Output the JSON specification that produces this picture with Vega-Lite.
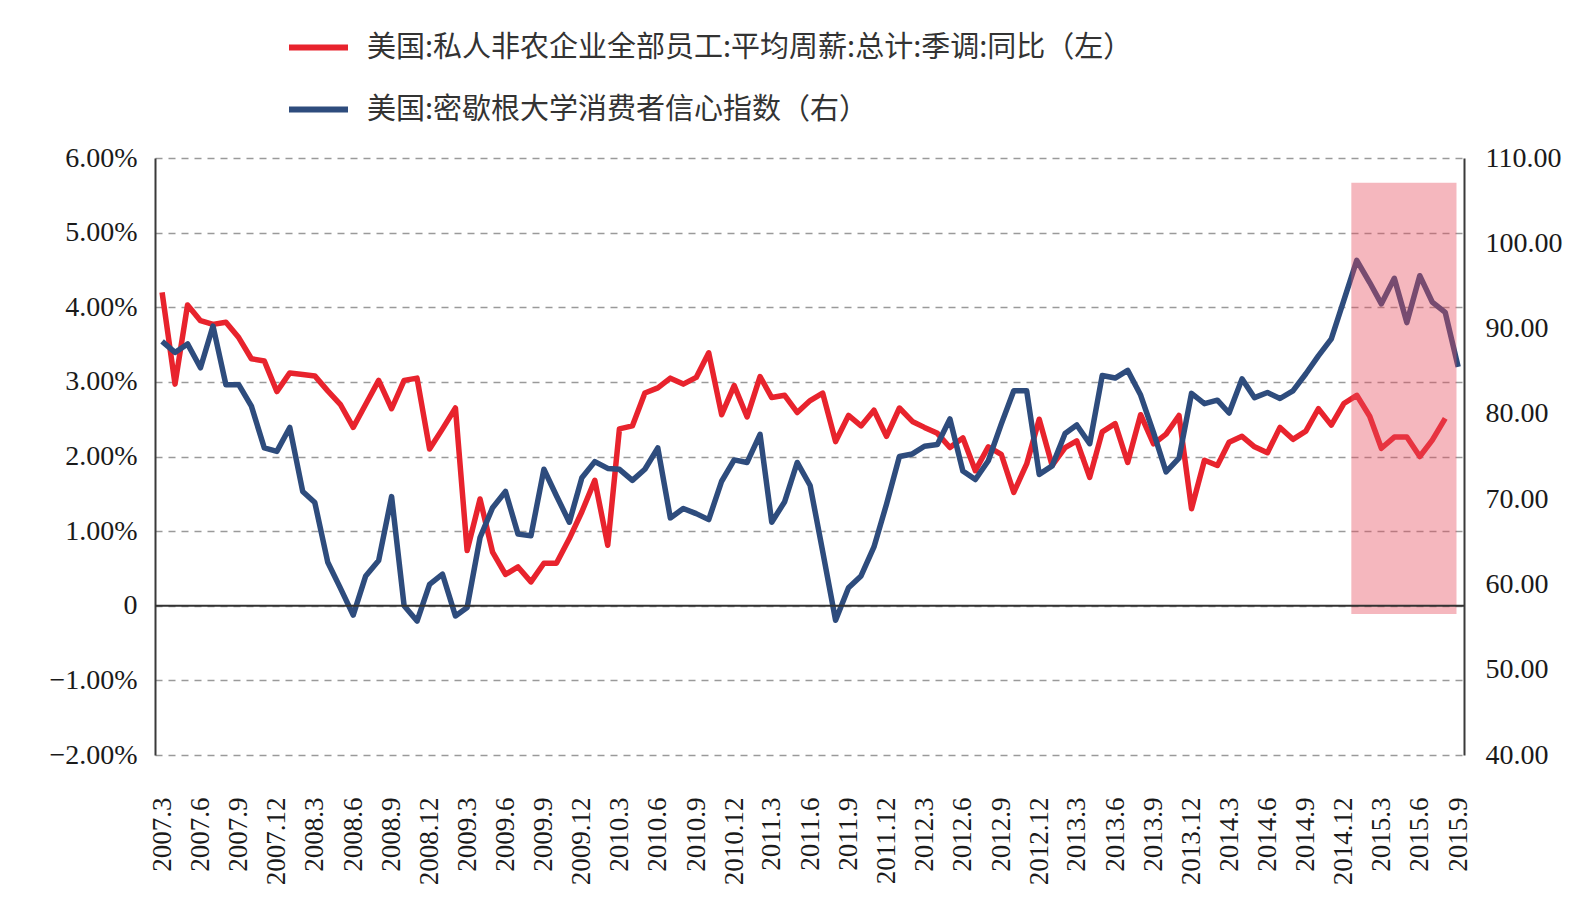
{
  "$schema": "https://vega.github.io/schema/vega-lite/v6.json",
  "width": 1309,
  "height": 597,
  "autosize": {"type": "none"},
  "padding": {"left": 155, "top": 158, "right": 122, "bottom": 161},
  "background": "white",
  "config": {
    "view": {"stroke": null},
    "axis": {"labelOverlap": false},
    "axisX": {"labelOverlap": false, "labelSeparation": 0, "labelBound": false, "labelFlush": false}
  },
  "datasets": {
    "series": [
      {"d":"2007-03-01","w":4.20,"c":88.5},{"d":"2007-04-01","w":2.97,"c":87.2},{"d":"2007-05-01","w":4.03,"c":88.2},{"d":"2007-06-01","w":3.82,"c":85.4},{"d":"2007-07-01","w":3.77,"c":90.3},{"d":"2007-08-01","w":3.80,"c":83.4},{"d":"2007-09-01","w":3.59,"c":83.4},{"d":"2007-10-01","w":3.31,"c":80.9},{"d":"2007-11-01","w":3.28,"c":76.0},{"d":"2007-12-01","w":2.87,"c":75.6},
      {"d":"2008-01-01","w":3.12,"c":78.4},{"d":"2008-02-01","w":3.10,"c":70.9},{"d":"2008-03-01","w":3.08,"c":69.6},{"d":"2008-04-01","w":2.88,"c":62.6},{"d":"2008-05-01","w":2.70,"c":59.6},{"d":"2008-06-01","w":2.39,"c":56.4},{"d":"2008-07-01","w":2.70,"c":61.0},{"d":"2008-08-01","w":3.02,"c":62.8},{"d":"2008-09-01","w":2.64,"c":70.3},{"d":"2008-10-01","w":3.02,"c":57.5},{"d":"2008-11-01","w":3.05,"c":55.7},{"d":"2008-12-01","w":2.10,"c":60.0},
      {"d":"2009-01-01","w":2.37,"c":61.2},{"d":"2009-02-01","w":2.65,"c":56.3},{"d":"2009-03-01","w":0.74,"c":57.3},{"d":"2009-04-01","w":1.43,"c":65.5},{"d":"2009-05-01","w":0.72,"c":69.0},{"d":"2009-06-01","w":0.42,"c":70.9},{"d":"2009-07-01","w":0.52,"c":65.9},{"d":"2009-08-01","w":0.32,"c":65.7},{"d":"2009-09-01","w":0.57,"c":73.5},{"d":"2009-10-01","w":0.57,"c":70.4},{"d":"2009-11-01","w":0.90,"c":67.3},{"d":"2009-12-01","w":1.26,"c":72.5},
      {"d":"2010-01-01","w":1.68,"c":74.4},{"d":"2010-02-01","w":0.81,"c":73.6},{"d":"2010-03-01","w":2.37,"c":73.5},{"d":"2010-04-01","w":2.41,"c":72.2},{"d":"2010-05-01","w":2.85,"c":73.5},{"d":"2010-06-01","w":2.92,"c":76.0},{"d":"2010-07-01","w":3.05,"c":67.8},{"d":"2010-08-01","w":2.97,"c":68.9},{"d":"2010-09-01","w":3.06,"c":68.3},{"d":"2010-10-01","w":3.39,"c":67.6},{"d":"2010-11-01","w":2.56,"c":72.1},{"d":"2010-12-01","w":2.95,"c":74.6},
      {"d":"2011-01-01","w":2.53,"c":74.3},{"d":"2011-02-01","w":3.07,"c":77.6},{"d":"2011-03-01","w":2.79,"c":67.3},{"d":"2011-04-01","w":2.82,"c":69.7},{"d":"2011-05-01","w":2.59,"c":74.3},{"d":"2011-06-01","w":2.75,"c":71.6},{"d":"2011-07-01","w":2.85,"c":63.9},{"d":"2011-08-01","w":2.20,"c":55.8},{"d":"2011-09-01","w":2.55,"c":59.6},{"d":"2011-10-01","w":2.41,"c":61.0},{"d":"2011-11-01","w":2.62,"c":64.4},{"d":"2011-12-01","w":2.27,"c":69.4},
      {"d":"2012-01-01","w":2.65,"c":75.0},{"d":"2012-02-01","w":2.47,"c":75.3},{"d":"2012-03-01","w":2.39,"c":76.2},{"d":"2012-04-01","w":2.31,"c":76.4},{"d":"2012-05-01","w":2.12,"c":79.4},{"d":"2012-06-01","w":2.25,"c":73.3},{"d":"2012-07-01","w":1.81,"c":72.3},{"d":"2012-08-01","w":2.13,"c":74.5},{"d":"2012-09-01","w":2.03,"c":78.8},{"d":"2012-10-01","w":1.52,"c":82.7},{"d":"2012-11-01","w":1.90,"c":82.7},{"d":"2012-12-01","w":2.50,"c":72.9},
      {"d":"2013-01-01","w":1.88,"c":73.9},{"d":"2013-02-01","w":2.12,"c":77.7},{"d":"2013-03-01","w":2.21,"c":78.7},{"d":"2013-04-01","w":1.72,"c":76.5},{"d":"2013-05-01","w":2.33,"c":84.5},{"d":"2013-06-01","w":2.44,"c":84.2},{"d":"2013-07-01","w":1.92,"c":85.1},{"d":"2013-08-01","w":2.56,"c":82.2},{"d":"2013-09-01","w":2.17,"c":77.8},{"d":"2013-10-01","w":2.30,"c":73.2},{"d":"2013-11-01","w":2.55,"c":74.8},{"d":"2013-12-01","w":1.30,"c":82.4},
      {"d":"2014-01-01","w":1.95,"c":81.2},{"d":"2014-02-01","w":1.88,"c":81.6},{"d":"2014-03-01","w":2.19,"c":80.1},{"d":"2014-04-01","w":2.27,"c":84.1},{"d":"2014-05-01","w":2.13,"c":81.9},{"d":"2014-06-01","w":2.05,"c":82.5},{"d":"2014-07-01","w":2.39,"c":81.8},{"d":"2014-08-01","w":2.23,"c":82.7},{"d":"2014-09-01","w":2.34,"c":84.7},{"d":"2014-10-01","w":2.64,"c":86.8},{"d":"2014-11-01","w":2.42,"c":88.8},{"d":"2014-12-01","w":2.71,"c":93.3},
      {"d":"2015-01-01","w":2.82,"c":98.0},{"d":"2015-02-01","w":2.54,"c":95.4},{"d":"2015-03-01","w":2.11,"c":92.9},{"d":"2015-04-01","w":2.26,"c":95.9},{"d":"2015-05-01","w":2.26,"c":90.7},{"d":"2015-06-01","w":2.00,"c":96.2},{"d":"2015-07-01","w":2.22,"c":93.1},{"d":"2015-08-01","w":2.51,"c":91.9},{"d":"2015-09-01","w":null,"c":85.5}
    ],
    "highlight": [
      {"d":"2014-12-19","e":"2015-08-28","lo":-0.11,"hi":5.67}
    ]
  },
  "encoding": {
    "x": {
      "field": "d", "type": "temporal",
      "scale": {"type": "utc", "domain": [{"year":2007,"month":2,"date":12,"utc":true},{"year":2015,"month":9,"date":15,"utc":true}]},
      "axis": {
        "title": null, "domain": false, "ticks": false, "grid": false,
        "labelAngle": -90, "labelPadding": 42,
        "labelFont": "Liberation Serif", "labelFontSize": 27, "labelColor": "#1a1a1a",
        "labelOverlap": false, "labelSeparation": 0,
        "labelExpr": "utcFormat(datum.value, '%Y.%-m')",
        "values": [
          {"year":2007,"month":3,"date":1,"utc":true},{"year":2007,"month":6,"date":1,"utc":true},{"year":2007,"month":9,"date":1,"utc":true},{"year":2007,"month":12,"date":1,"utc":true},
          {"year":2008,"month":3,"date":1,"utc":true},{"year":2008,"month":6,"date":1,"utc":true},{"year":2008,"month":9,"date":1,"utc":true},{"year":2008,"month":12,"date":1,"utc":true},
          {"year":2009,"month":3,"date":1,"utc":true},{"year":2009,"month":6,"date":1,"utc":true},{"year":2009,"month":9,"date":1,"utc":true},{"year":2009,"month":12,"date":1,"utc":true},
          {"year":2010,"month":3,"date":1,"utc":true},{"year":2010,"month":6,"date":1,"utc":true},{"year":2010,"month":9,"date":1,"utc":true},{"year":2010,"month":12,"date":1,"utc":true},
          {"year":2011,"month":3,"date":1,"utc":true},{"year":2011,"month":6,"date":1,"utc":true},{"year":2011,"month":9,"date":1,"utc":true},{"year":2011,"month":12,"date":1,"utc":true},
          {"year":2012,"month":3,"date":1,"utc":true},{"year":2012,"month":6,"date":1,"utc":true},{"year":2012,"month":9,"date":1,"utc":true},{"year":2012,"month":12,"date":1,"utc":true},
          {"year":2013,"month":3,"date":1,"utc":true},{"year":2013,"month":6,"date":1,"utc":true},{"year":2013,"month":9,"date":1,"utc":true},{"year":2013,"month":12,"date":1,"utc":true},
          {"year":2014,"month":3,"date":1,"utc":true},{"year":2014,"month":6,"date":1,"utc":true},{"year":2014,"month":9,"date":1,"utc":true},{"year":2014,"month":12,"date":1,"utc":true},
          {"year":2015,"month":3,"date":1,"utc":true},{"year":2015,"month":6,"date":1,"utc":true},{"year":2015,"month":9,"date":1,"utc":true}
        ]
      }
    }
  },
  "layer": [
    {
      "data": {"name": "series"},
      "mark": {"type": "line", "strokeWidth": 5.5, "strokeJoin": "round"},
      "encoding": {
        "y": {
          "field": "w", "type": "quantitative",
          "scale": {"domain": [-2, 6], "nice": false, "zero": false},
          "axis": {
            "title": null, "orient": "left",
            "values": [-2, -1, 0, 1, 2, 3, 4, 5, 6],
            "labelExpr": "datum.value == 0 ? '0' : format(datum.value, '.2f') + '%'",
            "labelFont": "Liberation Serif", "labelFontSize": 28, "labelColor": "#1a1a1a", "labelPadding": 18,
            "domain": true, "domainColor": "#3a3a3a", "domainWidth": 2,
            "ticks": false,
            "grid": true, "gridColor": "#9a9a9a", "gridDash": [7, 6], "gridWidth": 1.5
          }
        },
        "color": {
          "datum": "美国:私人非农企业全部员工:平均周薪:总计:季调:同比（左）",
          "type": "nominal",
          "scale": {
            "domain": ["美国:私人非农企业全部员工:平均周薪:总计:季调:同比（左）", "美国:密歇根大学消费者信心指数（右）"],
            "range": ["#E8232D", "#2E4C7D"]
          },
          "legend": {
            "orient": "none", "legendX": 131, "legendY": -143, "title": null,
            "direction": "vertical", "padding": 0,
            "symbolType": "stroke", "symbolSize": 3481, "symbolStrokeWidth": 6,
            "labelFont": "Noto Sans CJK SC", "labelFontSize": 29, "labelColor": "#333333",
            "labelLimit": 1400, "labelOffset": 16, "rowPadding": 14
          }
        }
      }
    },
    {
      "data": {"name": "series"},
      "mark": {"type": "line", "strokeWidth": 5.5, "strokeJoin": "round"},
      "encoding": {
        "y": {
          "field": "c", "type": "quantitative",
          "scale": {"domain": [40, 110], "nice": false, "zero": false},
          "axis": {
            "title": null, "orient": "right",
            "values": [40, 50, 60, 70, 80, 90, 100, 110],
            "format": ".2f",
            "labelFont": "Liberation Serif", "labelFontSize": 28, "labelColor": "#1a1a1a", "labelPadding": 21,
            "domain": true, "domainColor": "#3a3a3a", "domainWidth": 2,
            "ticks": false, "grid": false
          }
        },
        "color": {"datum": "美国:密歇根大学消费者信心指数（右）", "type": "nominal"}
      }
    },
    {
      "data": {"name": "highlight"},
      "layer": [
        {
          "mark": {"type": "rect", "fill": "#E64B5C", "fillOpacity": 0.4},
          "encoding": {
            "x2": {"field": "e"},
            "y": {"field": "hi", "type": "quantitative", "scale": {"domain": [-2, 6], "nice": false, "zero": false}, "axis": null},
            "y2": {"field": "lo"}
          }
        },
        {
          "mark": {"type": "rule", "color": "#333333", "strokeWidth": 2},
          "encoding": {
            "x": {"datum": {"year":2007,"month":2,"date":12,"utc":true}, "type": "temporal"},
            "x2": {"datum": {"year":2015,"month":9,"date":15,"utc":true}},
            "y": {"datum": 0, "type": "quantitative", "axis": null}
          }
        }
      ]
    }
  ],
  "resolve": {"scale": {"y": "independent"}}
}
